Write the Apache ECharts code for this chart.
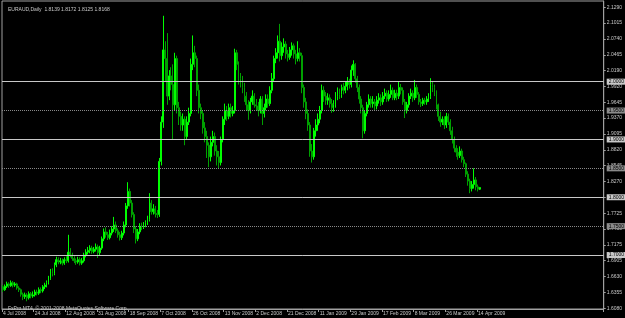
<!DOCTYPE html>
<html>
<head>
<meta charset="utf-8">
<script src="https://cdn.jsdelivr.net/npm/echarts@6/dist/echarts.min.js"></script>
<style>
  html, body { margin: 0; padding: 0; background: #000; }
  #chart { width: 625px; height: 318px; }
</style>
</head>
<body>
<div id="chart"></div>
<script>
// EURAUD daily bars, 4 Jul 2008 - mid Apr 2009
const opens = [
  1.645,1.640,1.646,1.650,1.647,1.652,1.648,1.650,1.643,1.640,
  1.632,1.628,1.631,1.626,1.633,1.629,1.631,1.636,1.634,1.640,
  1.638,1.645,1.648,1.652,1.660,1.672,1.668,1.683,1.692,1.688,
  1.690,1.686,1.692,1.690,1.705,1.700,1.694,1.690,1.688,1.692,
  1.686,1.690,1.700,1.705,1.708,1.712,1.706,1.710,1.714,1.704,
  1.712,1.728,1.740,1.735,1.730,1.738,1.745,1.752,1.742,1.735,
  1.730,1.738,1.752,1.785,1.810,1.790,1.770,1.745,1.728,1.740,
  1.750,1.748,1.752,1.756,1.762,1.790,1.775,1.780,1.772,1.770,
  1.862,1.930,2.055,2.040,1.975,2.010,1.995,1.960,2.040,1.955,
  1.940,1.925,1.935,1.905,1.930,1.945,2.030,2.050,2.040,1.985,
  1.955,1.945,1.920,1.905,1.890,1.870,1.895,1.905,1.880,1.870,
  1.860,1.900,1.935,1.950,1.940,1.955,1.945,1.950,2.050,2.030,
  2.005,2.000,1.990,1.975,1.960,1.950,1.965,1.975,1.960,1.958,
  1.950,1.970,1.945,1.955,1.970,1.962,1.985,2.005,2.040,2.050,
  2.070,2.045,2.060,2.065,2.048,2.042,2.055,2.062,2.048,2.040,
  2.050,2.045,1.990,1.965,1.945,1.925,1.880,1.870,1.915,1.925,
  1.935,1.950,1.985,1.975,1.968,1.972,1.962,1.955,1.960,1.975,
  1.982,1.978,1.990,1.985,1.992,2.000,1.995,2.020,2.030,2.005,
  1.990,1.970,1.955,1.915,1.945,1.960,1.970,1.962,1.965,1.958,
  1.968,1.972,1.965,1.975,1.980,1.970,1.978,1.985,1.972,1.980,
  1.975,1.990,1.985,1.965,1.950,1.960,1.975,1.980,1.972,1.990,
  1.978,1.965,1.962,1.968,1.965,1.970,1.975,1.995,1.990,1.982,
  1.960,1.940,1.930,1.935,1.925,1.940,1.930,1.915,1.900,1.885,
  1.878,1.872,1.880,1.865,1.858,1.840,1.828,1.815,1.822,1.830,
  1.818,1.8139
];
const closes = [
  1.640,1.646,1.650,1.647,1.652,1.648,1.650,1.643,1.640,1.632,
  1.628,1.631,1.626,1.633,1.629,1.631,1.636,1.634,1.640,1.638,
  1.645,1.648,1.652,1.660,1.672,1.668,1.683,1.692,1.688,1.690,
  1.686,1.692,1.690,1.705,1.700,1.694,1.690,1.688,1.692,1.686,
  1.690,1.700,1.705,1.708,1.712,1.706,1.710,1.714,1.704,1.712,
  1.728,1.740,1.735,1.730,1.738,1.745,1.752,1.742,1.735,1.730,
  1.738,1.752,1.785,1.810,1.790,1.770,1.745,1.728,1.740,1.750,
  1.748,1.752,1.756,1.762,1.790,1.775,1.780,1.772,1.770,1.862,
  1.930,2.055,2.040,1.975,2.010,1.995,1.960,2.040,1.955,1.940,
  1.925,1.935,1.905,1.930,1.945,2.030,2.050,2.040,1.985,1.955,
  1.945,1.920,1.905,1.890,1.870,1.895,1.905,1.880,1.870,1.860,
  1.900,1.935,1.950,1.940,1.955,1.945,1.950,2.050,2.030,2.005,
  2.000,1.990,1.975,1.960,1.950,1.965,1.975,1.960,1.958,1.950,
  1.970,1.945,1.955,1.970,1.962,1.985,2.005,2.040,2.050,2.070,
  2.045,2.060,2.065,2.048,2.042,2.055,2.062,2.048,2.040,2.050,
  2.045,1.990,1.965,1.945,1.925,1.880,1.870,1.915,1.925,1.935,
  1.950,1.985,1.975,1.968,1.972,1.962,1.955,1.960,1.975,1.982,
  1.978,1.990,1.985,1.992,2.000,1.995,2.020,2.030,2.005,1.990,
  1.970,1.955,1.915,1.945,1.960,1.970,1.962,1.965,1.958,1.968,
  1.972,1.965,1.975,1.980,1.970,1.978,1.985,1.972,1.980,1.975,
  1.990,1.985,1.965,1.950,1.960,1.975,1.980,1.972,1.990,1.978,
  1.965,1.962,1.968,1.965,1.970,1.975,1.995,1.990,1.982,1.960,
  1.940,1.930,1.935,1.925,1.940,1.930,1.915,1.900,1.885,1.878,
  1.872,1.880,1.865,1.858,1.840,1.828,1.815,1.822,1.830,1.818,
  1.814,1.8168
];
const lows = [
  1.636,1.638,1.643,1.643,1.645,1.644,1.645,1.640,1.636,1.628,
  1.622,1.624,1.620,1.623,1.625,1.626,1.628,1.630,1.631,1.634,
  1.635,1.641,1.644,1.649,1.657,1.663,1.665,1.679,1.684,1.684,
  1.682,1.683,1.686,1.687,1.696,1.690,1.686,1.683,1.685,1.682,
  1.683,1.687,1.696,1.701,1.703,1.702,1.703,1.706,1.695,1.700,
  1.709,1.724,1.730,1.726,1.727,1.734,1.740,1.738,1.730,1.725,
  1.726,1.734,1.748,1.780,1.784,1.765,1.738,1.720,1.724,1.736,
  1.743,1.745,1.748,1.752,1.758,1.770,1.770,1.765,1.764,1.766,
  1.855,1.920,2.000,1.960,1.968,1.985,1.900,1.950,1.945,1.925,
  1.915,1.915,1.890,1.900,1.925,1.940,2.020,2.025,1.975,1.945,
  1.935,1.910,1.895,1.868,1.852,1.862,1.888,1.872,1.855,1.850,
  1.855,1.895,1.925,1.932,1.935,1.938,1.940,1.945,2.020,1.995,
  1.990,1.980,1.965,1.950,1.934,1.945,1.960,1.955,1.950,1.940,
  1.945,1.925,1.938,1.950,1.955,1.958,1.980,2.000,2.032,2.040,
  2.035,2.038,2.050,2.040,2.035,2.038,2.045,2.040,2.030,2.035,
  2.035,1.980,1.955,1.935,1.915,1.870,1.860,1.865,1.905,1.915,
  1.928,1.945,1.965,1.960,1.960,1.955,1.946,1.948,1.955,1.968,
  1.970,1.972,1.978,1.980,1.985,1.988,1.990,2.010,1.998,1.982,
  1.962,1.945,1.902,1.910,1.940,1.955,1.955,1.955,1.950,1.952,
  1.962,1.958,1.960,1.970,1.965,1.966,1.972,1.968,1.968,1.968,
  1.970,1.978,1.960,1.937,1.945,1.955,1.970,1.965,1.968,1.972,
  1.960,1.956,1.958,1.960,1.960,1.965,1.970,1.982,1.975,1.952,
  1.932,1.922,1.925,1.918,1.920,1.925,1.908,1.893,1.878,1.870,
  1.865,1.868,1.860,1.852,1.835,1.820,1.807,1.810,1.815,1.812,
  1.810,1.8125
];
const highs = [
  1.648,1.649,1.654,1.653,1.656,1.655,1.653,1.652,1.646,1.642,
  1.635,1.635,1.634,1.637,1.636,1.637,1.640,1.640,1.644,1.644,
  1.648,1.652,1.656,1.664,1.676,1.677,1.687,1.697,1.696,1.695,
  1.694,1.696,1.698,1.735,1.712,1.704,1.698,1.694,1.697,1.696,
  1.695,1.704,1.710,1.714,1.717,1.716,1.714,1.720,1.718,1.716,
  1.732,1.746,1.748,1.740,1.744,1.750,1.766,1.758,1.746,1.740,
  1.742,1.758,1.790,1.826,1.815,1.795,1.774,1.750,1.745,1.755,
  1.756,1.757,1.760,1.768,1.807,1.795,1.788,1.785,1.778,1.868,
  1.940,2.114,2.070,2.084,2.020,2.025,2.030,2.050,2.045,1.965,
  1.948,1.945,1.940,1.940,1.955,2.040,2.080,2.062,2.045,1.995,
  1.962,1.950,1.930,1.915,1.895,1.905,1.915,1.912,1.890,1.880,
  1.905,1.940,1.962,1.958,1.962,1.962,1.958,2.057,2.055,2.035,
  2.015,2.010,1.998,1.982,1.968,1.972,1.985,1.980,1.970,1.965,
  1.975,1.975,1.962,1.978,1.978,1.992,2.015,2.045,2.058,2.080,
  2.100,2.068,2.075,2.070,2.055,2.060,2.068,2.066,2.055,2.070,
  2.058,2.050,1.995,1.972,1.952,1.930,1.892,1.920,1.935,1.945,
  1.958,1.995,1.992,1.982,1.980,1.978,1.970,1.968,1.982,1.990,
  1.988,1.995,1.998,2.000,2.008,2.005,2.028,2.037,2.032,2.010,
  1.995,1.975,1.960,1.950,1.965,1.978,1.975,1.975,1.970,1.975,
  1.980,1.978,1.982,1.988,1.985,1.985,1.995,1.990,1.986,1.986,
  2.000,1.996,1.990,1.970,1.965,1.980,1.988,1.985,2.003,1.995,
  1.982,1.970,1.972,1.972,1.975,1.980,2.006,2.000,1.995,1.985,
  1.962,1.948,1.940,1.940,1.946,1.945,1.935,1.922,1.905,1.890,
  1.885,1.888,1.884,1.870,1.860,1.845,1.832,1.828,1.850,1.835,
  1.822,1.8172
];

// bottom axis: one date label every 16 bars
const dateLabels = [
  '4 Jul 2008', '24 Jul 2008', '12 Aug 2008', '31 Aug 2008', '18 Sep 2008',
  '7 Oct 2008', '26 Oct 2008', '13 Nov 2008', '2 Dec 2008', '21 Dec 2008',
  '11 Jan 2009', '29 Jan 2009', '17 Feb 2009', '8 Mar 2009', '26 Mar 2009',
  '14 Apr 2009'
];
const barsPerLabel = 16;
const totalSlots = 304; // chart is shifted, empty space on the right

// right axis price labels
const priceTicks = [
  2.1290, 2.1015, 2.0740, 2.0465, 2.0190, 1.9920, 1.9645, 1.9370, 1.9095,
  1.8820, 1.8545, 1.8270, 1.7995, 1.7725, 1.7450, 1.7175, 1.6905, 1.6630,
  1.6355, 1.6080
];

// horizontal lines drawn on the chart
const solidLevels = [2.0000, 1.9000, 1.8000, 1.7000];
const dottedLevels = [1.9500, 1.8500, 1.7500];
const lastPrice = 1.8168;

const title = 'EURAUD,Daily  1.8139 1.8172 1.8125 1.8168';
const footer = 'FxPro MT4, \u00A9 2001-2008 MetaQuotes Software Corp.';

const FG = '#c8c8c8';
const FONT = 'Liberation Sans';
const BULL = '#00ff00';
const BEAR = '#00a000';

const categories = [];
for (let i = 0; i < totalSlots; i++) categories.push(String(i));

const candleData = opens.map((o, i) => [o, closes[i], lows[i], highs[i]]);

function isLabelSlot(idx) {
  return idx % barsPerLabel === 0 && idx / barsPerLabel < dateLabels.length;
}

function levelLine(v, color, type) {
  return {
    yAxis: v,
    lineStyle: { color, type, width: 1 },
    label: {
      show: true,
      position: 'end',
      distance: 3,
      formatter: v.toFixed(4),
      color: '#000',
      backgroundColor: color,
      padding: [1, 2, 0, 2],
      fontSize: 5,
      fontFamily: FONT,
    },
  };
}

const markLines = [
  ...solidLevels.map((v) => levelLine(v, '#c8c8c8', 'solid')),
  ...dottedLevels.map((v) => levelLine(v, '#8a8a8a', 'dotted')),
  {
    yAxis: lastPrice,
    lineStyle: { opacity: 0 },
    label: {
      show: true,
      position: 'end',
      distance: 3,
      formatter: lastPrice.toFixed(4),
      color: '#000',
      backgroundColor: '#ffffff',
      padding: [1, 2, 0, 2],
      fontSize: 5,
      fontFamily: FONT,
    },
  },
];

const chart = echarts.init(document.getElementById('chart'), null, { renderer: 'canvas' });

const option = {
  backgroundColor: '#000000',
  animation: false,
  title: [
    {
      text: title,
      left: 3,
      top: 2,
      textStyle: { color: FG, fontSize: 5, fontWeight: 'normal', fontFamily: FONT },
    },
    {
      text: footer,
      left: 3,
      top: 301,
      textStyle: { color: FG, fontSize: 5, fontWeight: 'normal', fontFamily: FONT },
    },
  ],
  grid: {
    left: 1,
    right: 20,
    top: 1,
    bottom: 9,
    show: true,
    borderColor: '#a0a0a0',
    borderWidth: 1,
    backgroundColor: '#000000',
  },
  xAxis: {
    type: 'category',
    data: categories,
    boundaryGap: true,
    axisLine: { show: true, lineStyle: { color: '#a0a0a0' } },
    axisTick: {
      show: true,
      interval: isLabelSlot,
      length: 3,
      lineStyle: { color: '#a0a0a0' },
    },
    axisLabel: {
      interval: isLabelSlot,
      formatter: (v, idx) => dateLabels[idx / barsPerLabel],
      align: 'left',
      margin: 2,
      color: FG,
      fontSize: 5,
      fontFamily: FONT,
    },
    splitLine: { show: false },
  },
  yAxis: {
    type: 'value',
    position: 'right',
    min: 1.6066,
    max: 2.1396,
    axisLine: { show: true, lineStyle: { color: '#a0a0a0' } },
    axisTick: {
      show: true,
      length: 2,
      customValues: priceTicks,
      lineStyle: { color: '#a0a0a0' },
    },
    axisLabel: {
      customValues: priceTicks,
      formatter: (v) => v.toFixed(4),
      margin: 3,
      color: FG,
      fontSize: 5,
      fontFamily: FONT,
    },
    splitLine: { show: false },
  },
  series: [
    {
      type: 'candlestick',
      data: candleData,
      barWidth: 1.4,
      itemStyle: {
        color: BULL,
        color0: BEAR,
        borderColor: BULL,
        borderColor0: BEAR,
        borderWidth: 1,
      },
      markLine: {
        silent: true,
        symbol: ['none', 'none'],
        animation: false,
        data: markLines,
      },
    },
  ],
};

chart.setOption(option);
</script>
</body>
</html>
